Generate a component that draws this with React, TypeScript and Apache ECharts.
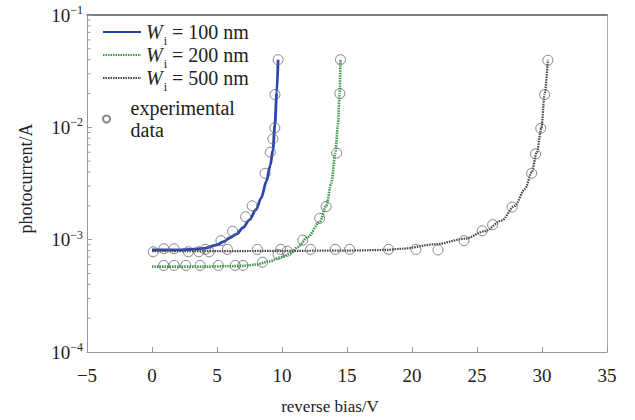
import React, { useEffect, useRef } from "react";
import * as echarts from "echarts";

const FONT = "Liberation Serif";

const X_MIN = -5;
const X_MAX = 35;
const X_INTERVAL = 5;
const Y_MIN = 1e-4;
const Y_MAX = 1e-1;

const xTitle = "reverse bias/V";
const yTitle = "photocurrent/A";

const seriesNames = ["W_i = 100 nm", "W_i = 200 nm", "W_i = 500 nm"];
const expName = "experimental data";

// fitted curves [reverse bias (V), photocurrent (A)]
const curve100: [number, number][] = [
  [0, 8.1e-4], [1, 8.1e-4], [2, 8.1e-4], [3, 8.2e-4], [4, 8.35e-4],
  [5, 9.0e-4], [5.5, 9.6e-4], [6, 1.04e-3], [6.5, 1.12e-3], [7, 1.28e-3],
  [7.5, 1.5e-3], [8, 1.85e-3], [8.4, 2.35e-3], [8.8, 3.3e-3], [9.1, 4.6e-3],
  [9.3, 6.3e-3], [9.45, 1.05e-2], [9.6, 2.05e-2], [9.7, 4.0e-2],
];
const curve200: [number, number][] = [
  [0, 5.75e-4], [2, 5.75e-4], [4, 5.75e-4], [6, 5.8e-4], [7, 5.85e-4],
  [8, 6.0e-4], [9, 6.4e-4], [10, 7.0e-4], [10.7, 7.6e-4], [11.2, 8.6e-4],
  [12, 1.06e-3], [12.9, 1.44e-3], [13.4, 2.0e-3], [13.8, 3.2e-3], [14.1, 5.9e-3],
  [14.3, 1.03e-2], [14.43, 2.0e-2], [14.5, 4.0e-2],
];
const curve500: [number, number][] = [
  [0, 7.9e-4], [5, 7.9e-4], [10, 7.95e-4], [15, 8.0e-4], [18, 8.1e-4],
  [19.2, 8.3e-4], [21.8, 9.1e-4], [24.1, 1.02e-3], [25.6, 1.19e-3], [26.9, 1.48e-3],
  [27.9, 2.0e-3], [28.7, 2.83e-3], [29.2, 3.97e-3], [29.6, 5.97e-3], [29.95, 9.8e-3],
  [30.2, 1.96e-2], [30.45, 4.0e-2],
];

// experimental points
const exp100: [number, number][] = [
  [0.1, 7.8e-4], [0.9, 8.3e-4], [1.7, 8.3e-4], [2.8, 7.8e-4], [3.6, 7.8e-4],
  [4.1, 8.2e-4], [4.4, 7.8e-4], [5.3, 9.8e-4], [6.2, 1.19e-3], [7.2, 1.6e-3],
  [7.7, 2.0e-3], [8.7, 3.9e-3], [9.1, 6.0e-3], [9.3, 7.9e-3], [9.45, 9.9e-3],
  [9.46, 1.96e-2], [9.7, 4.0e-2],
];
const exp200: [number, number][] = [
  [0.9, 5.9e-4], [1.7, 5.9e-4], [2.6, 5.9e-4], [3.7, 5.9e-4], [5.1, 5.9e-4],
  [6.4, 5.9e-4], [7.0, 5.9e-4], [8.5, 6.3e-4], [9.7, 7.4e-4], [11.6, 9.9e-4],
  [12.9, 1.55e-3], [13.4, 1.97e-3], [14.2, 5.9e-3], [14.45, 2.0e-2], [14.5, 4.0e-2],
];
const exp500: [number, number][] = [
  [5.8, 8.2e-4], [8.1, 8.2e-4], [9.9, 8.2e-4], [10.4, 7.9e-4], [12.2, 8.2e-4],
  [14.1, 8.2e-4], [15.2, 8.2e-4], [18.2, 8.2e-4], [20.3, 8.2e-4], [22.0, 8.1e-4],
  [24.0, 9.8e-4], [25.4, 1.2e-3], [26.2, 1.36e-3], [27.7, 1.95e-3], [29.2, 3.9e-3],
  [29.5, 5.8e-3], [29.9, 9.8e-3], [30.2, 1.96e-2], [30.45, 3.95e-2],
];

// log minor tick values
const yMinorTicks: number[] = [
  2e-4, 3e-4, 4e-4, 5e-4, 6e-4, 7e-4, 8e-4, 9e-4,
  2e-3, 3e-3, 4e-3, 5e-3, 6e-3, 7e-3, 8e-3, 9e-3,
  2e-2, 3e-2, 4e-2, 5e-2, 6e-2, 7e-2, 8e-2, 9e-2,
];

const legendRich = {
  w: { fontFamily: FONT, fontSize: 20, fontStyle: "italic", color: "#222", lineHeight: 22 },
  i: {
    fontFamily: FONT,
    fontSize: 12,
    color: "#222",
    verticalAlign: "bottom",
    lineHeight: 30,
    padding: [18, 0, 0, 1],
  },
  t: { fontFamily: FONT, fontSize: 20, color: "#222", lineHeight: 22 },
};

export default function App() {
  const ref = useRef<HTMLDivElement>(null);
  useEffect(() => {
    document.body.style.margin = "0";
    if (!ref.current) return;
    const chart = echarts.init(ref.current, null, { renderer: "svg" });
    const axisGray = "#999";
    const option: any = {
      animation: false,
      backgroundColor: "#fff",
      textStyle: { fontFamily: FONT },
      grid: { left: 87, right: 28, top: 15, bottom: 66 },
      xAxis: [
        {
          type: "value",
          min: X_MIN,
          max: X_MAX,
          interval: X_INTERVAL,
          position: "bottom",
          name: xTitle,
          nameLocation: "middle",
          nameGap: 46,
          nameTextStyle: { fontFamily: FONT, fontSize: 17, color: "#222", padding: [0, 34, 0, 0] },
          axisLine: { onZero: false, lineStyle: { color: axisGray, width: 1 } },
          axisTick: { inside: true, length: 5, lineStyle: { color: axisGray } },
          axisLabel: {
            fontFamily: FONT,
            fontSize: 19,
            color: "#222",
            margin: 14,
            formatter: (v: number) => String(v).replace("-", "\u2212"),
          },
          splitLine: { show: false },
        },
        {
          type: "value",
          min: X_MIN,
          max: X_MAX,
          position: "top",
          axisLine: { onZero: false, lineStyle: { color: "#555", width: 1.5 } },
          axisTick: { show: false },
          axisLabel: { show: false },
          splitLine: { show: false },
        },
      ],
      yAxis: [
        {
          type: "log",
          logBase: 10,
          min: Y_MIN,
          max: Y_MAX,
          position: "left",
          name: yTitle,
          nameLocation: "middle",
          nameGap: 52,
          nameTextStyle: { fontFamily: FONT, fontSize: 18, color: "#222", padding: [0, 0, 0, 10] },
          axisLine: { show: true, onZero: false, lineStyle: { color: axisGray, width: 1 } },
          axisTick: { inside: true, length: 5, lineStyle: { color: axisGray } },
          axisLabel: {
            margin: 4,
            formatter: (v: number) => {
              const e = Math.round(Math.log10(v));
              return `{b|10}{s|${e < 0 ? "\u2212" : ""}${Math.abs(e)}}`;
            },
            rich: {
              b: { fontFamily: FONT, fontSize: 19, color: "#222", lineHeight: 22 },
              s: { fontFamily: FONT, fontSize: 12, color: "#222", verticalAlign: "top", lineHeight: 12 },
            },
          },
          splitLine: { show: false },
        },
        {
          type: "log",
          logBase: 10,
          min: Y_MIN,
          max: Y_MAX,
          position: "right",
          axisLine: { show: true, onZero: false, lineStyle: { color: "#aaa", width: 1 } },
          axisTick: { show: false },
          axisLabel: { show: false },
          splitLine: { show: false },
        },
      ],
      legend: [
        {
          data: seriesNames,
          orient: "vertical",
          left: 102,
          top: 17,
          padding: 0,
          itemWidth: 38,
          itemHeight: 10,
          itemGap: -7,
          selectedMode: false,
          itemStyle: { opacity: 0 },
          formatter: (name: string) => {
            const rest = name.split("=")[1].trim();
            return `{w|W}{i|i}{t| = ${rest}}`;
          },
          textStyle: { fontFamily: FONT, fontSize: 20, color: "#222", rich: legendRich },
        },
        {
          data: [{ name: expName, textStyle: { padding: [22, 0, 0, 0] } }],
          orient: "vertical",
          left: 102,
          top: 86,
          padding: 0,
          itemWidth: 38,
          itemHeight: 7,
          selectedMode: false,
          formatter: () => "experimental\ndata",
          textStyle: { fontFamily: FONT, fontSize: 20, color: "#222", lineHeight: 22 },
        },
      ],
      series: [
        {
          name: seriesNames[0],
          type: "line",
          data: curve100,
          symbol: "none",
          smooth: 0.3,
          smoothMonotone: "x",
          color: "#2a46b0",
          lineStyle: { color: "#2a46b0", width: 2.8 },
          z: 2,
        },
        {
          name: seriesNames[1],
          type: "line",
          data: curve200,
          symbol: "none",
          smooth: 0.3,
          smoothMonotone: "x",
          color: "#3d9a45",
          lineStyle: { color: "#3d9a45", width: 2.6, type: [1.5, 1] },
          z: 2,
        },
        {
          name: seriesNames[2],
          type: "line",
          data: curve500,
          symbol: "none",
          smooth: 0.3,
          smoothMonotone: "x",
          color: "#444",
          lineStyle: { color: "#444", width: 2.2, type: [1.5, 1] },
          z: 2,
        },
        {
          name: expName,
          type: "scatter",
          data: [...exp100, ...exp200, ...exp500],
          symbol: "circle",
          symbolSize: 10,
          itemStyle: { color: "rgba(255,255,255,0)", borderColor: "#666", borderWidth: 1 },
          z: 3,
        },
        {
          type: "custom",
          silent: true,
          data: yMinorTicks.map((v) => [X_MIN, v]),
          renderItem: (_params: any, api: any) => {
            const p = api.coord([api.value(0), api.value(1)]);
            return {
              type: "line",
              shape: { x1: p[0], y1: p[1], x2: p[0] + 3.5, y2: p[1] },
              style: { stroke: axisGray, lineWidth: 1 },
            };
          },
          z: 1,
        },
      ],
    };
    chart.setOption(option);
    return () => chart.dispose();
  }, []);
  return (
    <div
      ref={ref}
      style={{ position: "fixed", left: 0, top: 0, width: 635, height: 420, background: "#fff" }}
    />
  );
}
